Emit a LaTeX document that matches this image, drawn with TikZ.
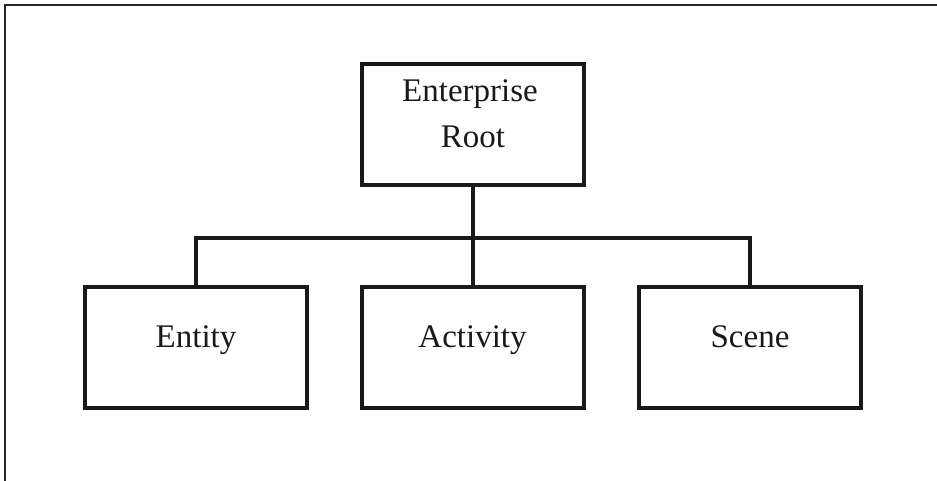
\documentclass[tikz,border=0pt]{standalone}
\usepackage{fontspec}
\setmainfont{Liberation Serif}
\begin{document}
\begin{tikzpicture}[x=1pt,y=-1pt,
  box/.style={draw=black!90, line width=4pt, rectangle, minimum width=222pt, minimum height=121pt, inner sep=0pt},
  lbl/.style={anchor=base, inner sep=0pt, font=\fontsize{33}{46}\selectfont, text=black!90},
  conn/.style={draw=black!90, line width=4pt},
  frame/.style={draw=black!85, line width=2.8pt}]
\useasboundingbox (0,0) rectangle (937,481);
\draw[frame] (5,481) -- (5,5) -- (937,5);
\node[box] (root) at (472.5,125) {};
\node[box] (ent) at (196,347.5) {};
\node[box] (act) at (472.5,347.5) {};
\node[box] (sc) at (750,347.5) {};
\node[lbl] (roott1) at (470,102) {Enterprise};
\node[lbl] (roott2) at (473,148) {Root};
\node[lbl] (entt) at (196,347) {Entity};
\node[lbl] (actt) at (472.5,347) {Activity};
\node[lbl] (sct) at (750,347) {Scene};
\coordinate (bar) at (472.5,238);
\draw[conn] (root.south) -- (act.north);
\draw[conn] (ent.north) |- (bar) -| (sc.north);
\end{tikzpicture}
\end{document}
